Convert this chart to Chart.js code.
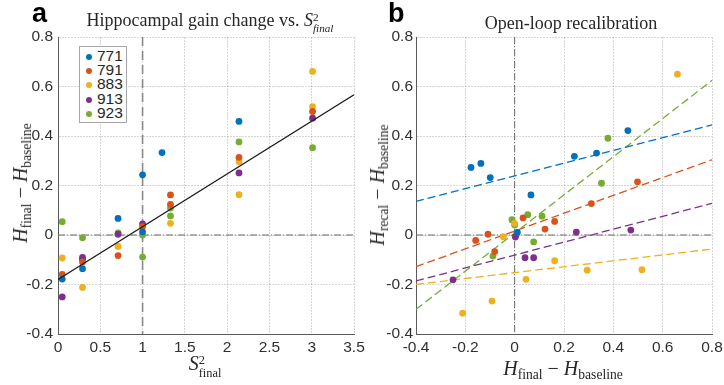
<!DOCTYPE html>
<html>
<head>
<meta charset="utf-8">
<title>Hippocampal gain change and open-loop recalibration</title>
<script src="https://cdn.jsdelivr.net/npm/chart.js"></script>
<style>
  body { margin: 0; background: #fff; }
  #wrap { position: relative; width: 724px; height: 385px; overflow: hidden; color: #262626; }
  canvas { position: absolute; top: 0; }
  .lbl { position: absolute; transform: translate(-50%, -50%); white-space: nowrap;
         font-family: "Liberation Serif", "DejaVu Serif", serif; line-height: 1; }
  .rot { transform: translate(-50%, -50%) rotate(-90deg); }
  .math { font-size: 20px; }
  .math i { font-style: italic; }
  .sub { font-size: 0.68em; vertical-align: -0.32em; }
  .ss { display: inline-block; font-size: 0.62em; line-height: 1.0; vertical-align: -0.55em; text-align: left; }
  .title { font-size: 18px; }
  .panel { position: absolute; font-family: "Liberation Sans", Arial, sans-serif; font-weight: bold; font-size: 27px; color: #000; }
  #legend { position: absolute; left: 79px; top: 46px; width: 46px; padding: 2px 0 2px 0; border: 1px solid #a6a6a6;
            background: #fff; font-family: "Liberation Sans", Arial, sans-serif; font-size: 15.5px; color: #262626; }
  #legend div { height: 14.2px; line-height: 14.2px; padding-left: 6px; }
  #legend span.dot { display: inline-block; width: 6px; height: 6px; border-radius: 50%; margin-right: 5px; vertical-align: 1px; }
</style>
</head>
<body>
<div id="wrap">
  <canvas id="gainChart" width="372" height="385" style="left:0px;width:372px;height:385px"></canvas>
  <canvas id="recalChart" width="362" height="385" style="left:362px;width:362px;height:385px"></canvas>

  <div class="panel" style="left:32px;top:-2px">a</div>
  <div class="panel" style="left:388px;top:-2px">b</div>

  <div class="lbl title" style="left:210px;top:23px">Hippocampal gain change vs. <i>S</i><span class="ss">2<br><i>final</i></span></div>
  <div class="lbl title" style="left:571px;top:23px">Open-loop recalibration</div>

  <div class="lbl rot math" style="left:22px;top:183px"><i>H</i><span class="sub">final</span> &minus; <i>H</i><span class="sub">baseline</span></div>
  <div class="lbl rot math" style="left:379px;top:185px"><i>H</i><span class="sub">recal</span> &minus; <i>H</i><span class="sub">baseline</span></div>

  <div class="lbl math" style="left:205px;top:366px"><i>S</i><span class="ss">2<br>final</span></div>
  <div class="lbl math" style="left:563px;top:370px"><i>H</i><span class="sub">final</span> &minus; <i>H</i><span class="sub">baseline</span></div>

  <div id="legend"></div>
</div>

<script>
  // animals (legend) and MATLAB default colours
  var mice = ['771', '791', '883', '913', '923'];
  var colors = ['#0072BD', '#D95319', '#EDB120', '#7E2F8E', '#77AC30'];

  // panel a: S^2_final vs H_final - H_baseline, one list per mouse
  var gainS2 = [
    [0.05, 0.29, 0.71, 1.0, 1.0, 1.23, 2.14],
    [0.05, 0.29, 0.71, 1.0, 1.33, 1.33, 2.14, 3.01],
    [0.05, 0.29, 0.71, 1.33, 2.14, 2.14, 3.01, 3.01],
    [0.05, 0.29, 0.29, 0.71, 1.0, 2.14, 3.01],
    [0.05, 0.29, 0.71, 1.0, 1.0, 1.33, 1.33, 2.14, 3.01]
  ];
  var gainDH = [
    [-0.178, -0.136, 0.067, 0.013, 0.243, 0.333, 0.459],
    [-0.159, -0.109, -0.083, 0.034, 0.162, 0.124, 0.314, 0.499],
    [-0.093, -0.212, -0.046, 0.047, 0.296, 0.163, 0.661, 0.519],
    [-0.250, -0.091, -0.099, 0.003, 0.045, 0.251, 0.472],
    [0.054, -0.011, 0.008, 0.0, -0.089, 0.109, 0.077, 0.376, 0.353]
  ];
  // pooled linear fit [intercept, slope]
  var gainFit = [-0.18, 0.2134];

  // panel b: H_final - H_baseline vs H_recal - H_baseline
  var recalX = [
    [-0.177, -0.137, -0.099, 0.011, 0.066, 0.242, 0.332, 0.459],
    [-0.158, -0.108, -0.081, 0.034, 0.123, 0.162, 0.311, 0.498],
    [-0.211, -0.092, -0.046, 0.0, 0.046, 0.162, 0.294, 0.516, 0.660],
    [-0.250, 0.003, 0.042, 0.077, 0.250, 0.471],
    [-0.088, -0.011, 0.0, 0.008, 0.053, 0.077, 0.111, 0.352, 0.378]
  ];
  var recalY = [
    [0.273, 0.289, 0.232, 0.011, 0.162, 0.318, 0.331, 0.422],
    [-0.022, 0.003, -0.067, 0.069, 0.024, 0.055, 0.127, 0.215],
    [-0.316, -0.267, -0.007, 0.047, -0.179, -0.104, -0.142, -0.140, 0.650],
    [-0.181, -0.008, -0.092, -0.092, 0.012, 0.020],
    [-0.085, 0.062, 0.040, 0.004, 0.082, -0.028, 0.076, 0.209, 0.391]
  ];
  // per-mouse fits, intercepts and slopes
  var recalIntercept = [0.239, 0.016, -0.152, -0.081, 0.008];
  var recalSlope = [0.2575, 0.36, 0.119, 0.261, 0.771];

  // tick labels
  var gainXTicks = [0, 0.5, 1, 1.5, 2, 2.5, 3, 3.5];
  var recalXTicks = [-0.4, -0.2, 0, 0.2, 0.4, 0.6, 0.8];
  var yTicks = [-0.4, -0.2, 0, 0.2, 0.4, 0.6, 0.8];

  // legend
  var leg = document.getElementById('legend');
  mice.forEach(function (m, i) {
    var row = document.createElement('div');
    row.innerHTML = '<span class="dot" style="background:' + colors[i] + '"></span>' + m;
    leg.appendChild(row);
  });

  function pts(xs, ys) {
    return xs.map(function (x, j) { return { x: x, y: ys[j] }; });
  }
  function fitLine(b, m, x0, x1) {
    return [{ x: x0, y: b + m * x0 }, { x: x1, y: b + m * x1 }];
  }

  // dashed reference lines at fixed data values
  var refLines = {
    id: 'refLines',
    beforeDatasetsDraw: function (chart, args, opts) {
      var ctx = chart.ctx, a = chart.chartArea;
      var xs = chart.scales.x, ys = chart.scales.y;
      ctx.save();
      (opts.v || []).forEach(function (l) {
        var px = xs.getPixelForValue(l.value);
        ctx.beginPath();
        ctx.setLineDash(l.dash);
        ctx.strokeStyle = l.color;
        ctx.lineWidth = l.width;
        ctx.moveTo(px, a.top);
        ctx.lineTo(px, a.bottom);
        ctx.stroke();
      });
      (opts.h || []).forEach(function (l) {
        var py = ys.getPixelForValue(l.value);
        ctx.beginPath();
        ctx.setLineDash(l.dash);
        ctx.strokeStyle = l.color;
        ctx.lineWidth = l.width;
        ctx.moveTo(a.left, py);
        ctx.lineTo(a.right, py);
        ctx.stroke();
      });
      ctx.restore();
    }
  };

  var tickFont = { family: '"Liberation Sans", Arial, sans-serif', size: 15.5 };

  function makeScales(xTicks, yWidth, yPad) {
    return {
      x: {
        type: 'linear',
        min: xTicks[0],
        max: xTicks[xTicks.length - 1],
        afterBuildTicks: function (s) { s.ticks = xTicks.map(function (v) { return { value: v }; }); },
        afterFit: function (s) { s.height = 25; s.paddingLeft = 0; s.paddingRight = 0; },
        ticks: { font: tickFont, color: '#303030', padding: 4, maxRotation: 0, autoSkip: false,
                 callback: function (v) { return String(Math.round(v * 10) / 10); } },
        grid: { color: 'rgba(0,0,0,0.16)', drawTicks: false, lineWidth: 1 },
        border: { display: true, color: '#5a5a5a', width: 1, dash: [2, 1] }
      },
      y: {
        type: 'linear',
        min: yTicks[0],
        max: yTicks[yTicks.length - 1],
        afterBuildTicks: function (s) { s.ticks = yTicks.map(function (v) { return { value: v }; }); },
        afterFit: function (s) { s.width = yWidth; s.paddingTop = 0; s.paddingBottom = 0; },
        ticks: { font: tickFont, color: '#303030', padding: yPad, autoSkip: false,
                 callback: function (v) { return String(Math.round(v * 10) / 10); } },
        grid: { color: 'rgba(0,0,0,0.16)', drawTicks: false, lineWidth: 1 },
        border: { display: true, color: '#5a5a5a', width: 1, dash: [2, 1] }
      }
    };
  }

  // panel a
  var gainSets = mice.map(function (m, i) {
    return {
      label: m, data: pts(gainS2[i], gainDH[i]), order: 2,
      backgroundColor: colors[i], borderWidth: 0, pointRadius: 3.4, pointHoverRadius: 3.4
    };
  });
  gainSets.push({
    label: 'fit', data: fitLine(gainFit[0], gainFit[1], gainXTicks[0], gainXTicks[gainXTicks.length - 1]),
    showLine: true, borderColor: '#1a1a1a', borderWidth: 1.2, pointRadius: 0, order: 1
  });

  new Chart(document.getElementById('gainChart').getContext('2d'), {
    type: 'scatter',
    data: { datasets: gainSets },
    plugins: [refLines],
    options: {
      responsive: false,
      animation: false,
      layout: { padding: { left: 0, top: 37, right: 18, bottom: 26 } },
      scales: makeScales(gainXTicks, 58, 5),
      plugins: {
        legend: { display: false },
        tooltip: { enabled: false },
        refLines: {
          v: [{ value: 1, dash: [9, 5], color: '#8a8a8a', width: 1.6 }],
          h: [{ value: 0, dash: [7, 2, 1, 2], color: '#6a6a6a', width: 1 }]
        }
      }
    }
  });

  // panel b
  var recalSets = [];
  mice.forEach(function (m, i) {
    recalSets.push({
      label: m, data: pts(recalX[i], recalY[i]), order: 1,
      backgroundColor: colors[i], borderWidth: 0, pointRadius: 3.4, pointHoverRadius: 3.4
    });
    recalSets.push({
      label: m + ' fit',
      data: fitLine(recalIntercept[i], recalSlope[i], recalXTicks[0], recalXTicks[recalXTicks.length - 1]),
      showLine: true, borderColor: colors[i], borderWidth: 1.3, borderDash: [8, 4], pointRadius: 0, order: 2
    });
  });

  new Chart(document.getElementById('recalChart').getContext('2d'), {
    type: 'scatter',
    data: { datasets: recalSets },
    plugins: [refLines],
    options: {
      responsive: false,
      animation: false,
      layout: { padding: { left: 0, top: 37, right: 12, bottom: 26 } },
      scales: makeScales(recalXTicks, 54, 3),
      plugins: {
        legend: { display: false },
        tooltip: { enabled: false },
        refLines: {
          v: [{ value: 0, dash: [7, 2, 1, 2], color: '#6a6a6a', width: 1 }],
          h: [{ value: 0, dash: [7, 2, 1, 2], color: '#6a6a6a', width: 1 }]
        }
      }
    }
  });
</script>
</body>
</html>
